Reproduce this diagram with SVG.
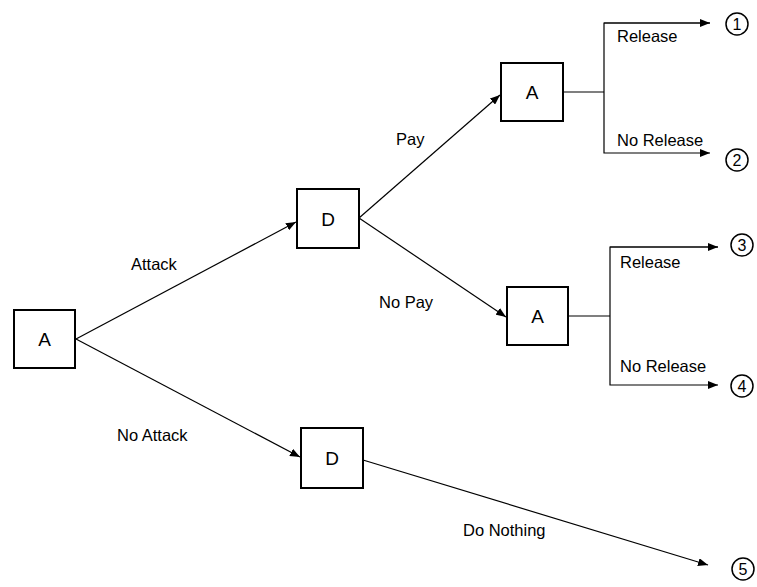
<svg xmlns="http://www.w3.org/2000/svg" width="757" height="587" viewBox="0 0 757 587">
<defs>
<marker id="arr" viewBox="0 0 10 8" refX="10" refY="4" markerWidth="10" markerHeight="8" markerUnits="userSpaceOnUse" orient="auto">
<path d="M0,0 L10,4 L0,8 Z" fill="#000"/>
</marker>
<style>
.box{fill:#fff;stroke:#000;stroke-width:2}
.lbl{font-family:"Liberation Sans",Arial,sans-serif;font-size:19px;fill:#000;text-anchor:middle}
.t{font-family:"Liberation Sans",Arial,sans-serif;font-size:16.5px;fill:#000}
.ln{fill:none;stroke:#000;stroke-width:1.2}
.c{fill:#fff;stroke:#000;stroke-width:1.5}
.n{font-family:"Liberation Sans",Arial,sans-serif;font-size:16px;fill:#000;text-anchor:middle}
</style>
</defs>
<rect width="757" height="587" fill="#fff"/>
<g id="connectors">
<line class="ln" x1="76" y1="339" x2="296" y2="222" marker-end="url(#arr)"/>
<line class="ln" x1="76" y1="339" x2="300" y2="457" marker-end="url(#arr)"/>
<line class="ln" x1="359" y1="218" x2="500" y2="95" marker-end="url(#arr)"/>
<line class="ln" x1="359" y1="218" x2="506" y2="317" marker-end="url(#arr)"/>
<line class="ln" x1="363" y1="460" x2="708" y2="565" marker-end="url(#arr)"/>
<polyline class="ln" points="563,92 604,92"/>
<polyline class="ln" points="710,23 604,23 604,153 710,153" marker-end="url(#arr)"/>
<line class="ln" x1="604" y1="23" x2="710" y2="23" marker-end="url(#arr)"/>
<polyline class="ln" points="568,316 610,316"/>
<polyline class="ln" points="718,247 610,247 610,385 718,385" marker-end="url(#arr)"/>
<line class="ln" x1="610" y1="247" x2="718" y2="247" marker-end="url(#arr)"/>
<text class="t" x="131" y="270">Attack</text>
<text class="t" x="117" y="441">No Attack</text>
<text class="t" x="396" y="145">Pay</text>
<text class="t" x="379" y="308">No Pay</text>
<text class="t" x="463" y="536">Do Nothing</text>
<text class="t" x="617" y="42">Release</text>
<text class="t" x="617" y="146">No Release</text>
<text class="t" x="620" y="268">Release</text>
<text class="t" x="620" y="372">No Release</text>
</g>
<g id="A1"><rect class="box" x="14" y="310" width="61" height="58"/><text class="lbl" x="44.5" y="346">A</text></g>
<g id="D1"><rect class="box" x="297" y="189" width="62" height="59"/><text class="lbl" x="328" y="225.5">D</text></g>
<g id="D2"><rect class="box" x="301" y="428" width="62" height="60"/><text class="lbl" x="332" y="465">D</text></g>
<g id="A2"><rect class="box" x="501" y="63" width="62" height="58"/><text class="lbl" x="532" y="99">A</text></g>
<g id="A3"><rect class="box" x="507" y="287" width="61" height="58"/><text class="lbl" x="537.5" y="323">A</text></g>
<g id="o1"><circle class="c" cx="737" cy="24" r="11"/><text class="n" x="737" y="29.5">1</text></g>
<g id="o2"><circle class="c" cx="737" cy="160" r="11"/><text class="n" x="737" y="165.5">2</text></g>
<g id="o3"><circle class="c" cx="742" cy="245" r="11"/><text class="n" x="742" y="250.5">3</text></g>
<g id="o4"><circle class="c" cx="742" cy="386" r="11"/><text class="n" x="742" y="391.5">4</text></g>
<g id="o5"><circle class="c" cx="743" cy="569" r="11"/><text class="n" x="743" y="574.5">5</text></g>
</svg>
